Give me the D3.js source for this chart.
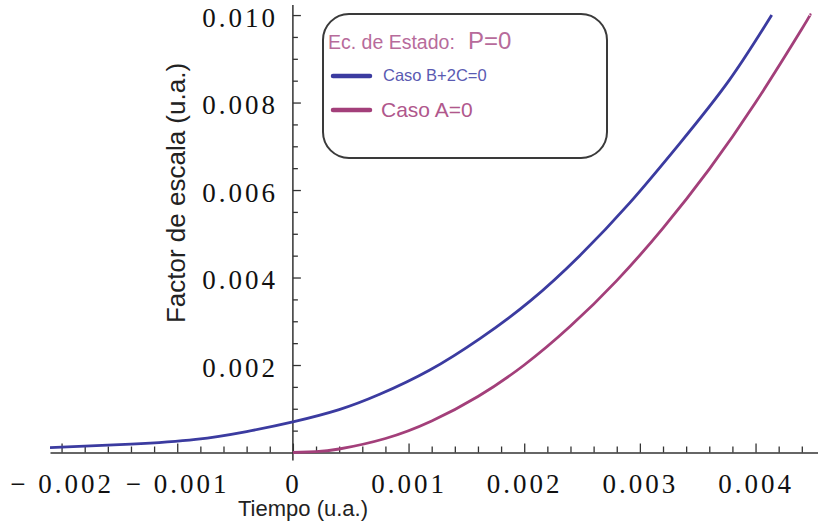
<!DOCTYPE html>
<html>
<head>
<meta charset="utf-8">
<script src="https://cdn.jsdelivr.net/npm/d3@7"></script>
<style>
  html, body { margin: 0; padding: 0; background: #fff; }
  svg { display: block; }
</style>
</head>
<body>
<svg id="chart" width="818" height="528"></svg>
<script>
// ---- data ----
const tiempoB = [-0.0021, -0.0014, -0.00084, -0.0004, 0, 0.0004, 0.00075, 0.00118, 0.00162, 0.00205, 0.00248, 0.00291, 0.00334, 0.00377, 0.00414];
const escalaB = [0.00011, 0.00019, 0.0003, 0.00048, 0.0007, 0.00098, 0.00133, 0.00188, 0.00261, 0.00346, 0.0045, 0.0057, 0.00705, 0.0085, 0.0100];
const tiempoA = [0, 0.0002, 0.0004, 0.0008, 0.0012, 0.0016, 0.0020, 0.0024, 0.0028, 0.0032, 0.0036, 0.0040, 0.0044, 0.00447];
const escalaA = [0, 0.00002, 0.00008, 0.00032, 0.00072, 0.00128, 0.002, 0.00289, 0.00393, 0.00513, 0.00648, 0.008, 0.00968, 0.0100];
const xTicks = [-0.002, -0.001, 0, 0.001, 0.002, 0.003, 0.004];
const yTicks = [0.002, 0.004, 0.006, 0.008, 0.010];
const xTickLabels = ["\u2212 0.002", "\u2212 0.001", "0", "0.001", "0.002", "0.003", "0.004"];
const yTickLabels = ["0.002", "0.004", "0.006", "0.008", "0.010"];
const seriesNames = ["Caso B+2C=0", "Caso A=0"];
const legendTitle = "Ec. de Estado: ";
const legendTitleEq = "P=0";
const xTitle = "Tiempo (u.a.)";
const yTitle = "Factor de escala (u.a.)";

const colorB = "#3b3ba0";
const colorA = "#a33f7a";

const svg = d3.select("#chart");
const x = d3.scaleLinear().domain([-0.0021, 0.00454]).range([50, 818]);
const y = d3.scaleLinear().domain([0, 0.01023]).range([452.5, 5]);

const axisColor = "#333";

// minor ticks x
const xMinor = d3.range(-0.0020, 0.00454, 0.0002).map(v => +v.toFixed(4)).filter(v => xTicks.indexOf(v) < 0);
svg.append("g").attr("transform", `translate(0,${y(0)})`)
  .call(d3.axisBottom(x).tickValues(xMinor).tickSize(-6).tickFormat(""))
  .call(g => g.select(".domain").remove())
  .call(g => g.selectAll("line").attr("stroke", axisColor).attr("stroke-width", 1.3));

// major x axis
const gx = svg.append("g").attr("transform", `translate(0,${y(0)})`)
  .call(d3.axisBottom(x).tickValues(xTicks).tickSizeInner(-9).tickSizeOuter(0).tickPadding(21)
    .tickFormat((d, i) => xTickLabels[i]));
gx.select(".domain").attr("stroke", axisColor).attr("stroke-width", 1.5);
gx.selectAll("line").attr("stroke", axisColor).attr("stroke-width", 1.3);
gx.selectAll("text").attr("font-family", "'Liberation Serif', 'Times New Roman', serif")
  .attr("font-size", 27).attr("fill", "#111").attr("letter-spacing", 3);

// minor y ticks
const yMinor = d3.range(0.0005, 0.0101, 0.0005).map(v => +v.toFixed(4)).filter(v => yTicks.indexOf(v) < 0);
svg.append("g").attr("transform", `translate(${x(0)},0)`)
  .call(d3.axisLeft(y).tickValues(yMinor).tickSize(-5).tickFormat(""))
  .call(g => g.select(".domain").remove())
  .call(g => g.selectAll("line").attr("stroke", axisColor).attr("stroke-width", 1.3));

// major y axis
const gy = svg.append("g").attr("transform", `translate(${x(0)},0)`)
  .call(d3.axisLeft(y).tickValues(yTicks).tickSizeInner(-8).tickSizeOuter(0).tickPadding(15)
    .tickFormat((d, i) => yTickLabels[i]));
gy.select(".domain").remove();
gy.selectAll("line").attr("stroke", axisColor).attr("stroke-width", 1.3);
gy.selectAll("text").attr("font-family", "'Liberation Serif', 'Times New Roman', serif")
  .attr("font-size", 27).attr("fill", "#111").attr("letter-spacing", 3).attr("dy", "0.42em");
gy.append("line").attr("x1", 0).attr("x2", 0).attr("y1", y.range()[1]).attr("y2", y(0) + 8)
  .attr("stroke", axisColor).attr("stroke-width", 1.5);

// curves
const line = d3.line().x(d => x(d[0])).y(d => y(d[1])).curve(d3.curveNatural);
svg.append("path").datum(d3.zip(tiempoB, escalaB))
  .attr("d", line).attr("fill", "none").attr("stroke", colorB).attr("stroke-width", 2.8);
svg.append("path").datum(d3.zip(tiempoA, escalaA))
  .attr("d", line).attr("fill", "none").attr("stroke", colorA).attr("stroke-width", 2.8);

// axis titles
svg.append("text").attr("x", 303).attr("y", 516).attr("text-anchor", "middle")
  .attr("font-family", "'Liberation Sans', Arial, sans-serif").attr("font-size", 22)
  .attr("fill", "#222").text(xTitle);
svg.append("text").attr("transform", "translate(185,193) rotate(-90)").attr("text-anchor", "middle")
  .attr("font-family", "'Liberation Sans', Arial, sans-serif").attr("font-size", 26)
  .attr("fill", "#222").text(yTitle);

// legend
const lg = svg.append("g");
lg.append("rect").attr("x", 323).attr("y", 14).attr("width", 284).attr("height", 144)
  .attr("rx", 26).attr("ry", 26).attr("fill", "#fff").attr("stroke", "#3a3a3a").attr("stroke-width", 2);
const t = lg.append("text").attr("x", 328).attr("y", 49)
  .attr("font-family", "'Liberation Sans', Arial, sans-serif").attr("fill", "#b76b9b");
t.append("tspan").attr("font-size", 19.5).text(legendTitle);
t.append("tspan").attr("x", 468).attr("font-size", 24).text(legendTitleEq);

lg.append("line").attr("x1", 333).attr("x2", 370).attr("y1", 76).attr("y2", 76)
  .attr("stroke", colorB).attr("stroke-width", 4.5).attr("stroke-linecap", "round");
lg.append("text").attr("x", 383).attr("y", 81).attr("font-family", "'Liberation Sans', Arial, sans-serif")
  .attr("font-size", 16.5).attr("fill", "#5a5ab2").text(seriesNames[0]);
lg.append("line").attr("x1", 333).attr("x2", 370).attr("y1", 110).attr("y2", 110)
  .attr("stroke", colorA).attr("stroke-width", 4.5).attr("stroke-linecap", "round");
lg.append("text").attr("x", 381).attr("y", 117).attr("font-family", "'Liberation Sans', Arial, sans-serif")
  .attr("font-size", 21).attr("fill", "#b0578c").text(seriesNames[1]);
</script>
</body>
</html>
